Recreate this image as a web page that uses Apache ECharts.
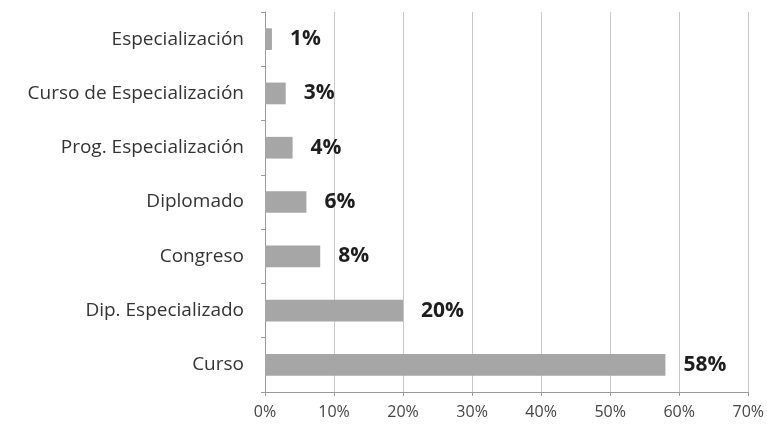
<!DOCTYPE html>
<html><head><meta charset="utf-8">
<script src="https://cdn.jsdelivr.net/npm/echarts@6/dist/echarts.min.js"></script>
<style>html,body{margin:0;padding:0;background:#fff}#c{width:767px;height:431px}</style>
</head><body><div id="c"></div>
<script>
const categories = ["Curso","Dip. Especializado","Congreso","Diplomado","Prog. Especialización","Curso de Especialización","Especialización"];
const values = [58,20,8,6,4,3,1];
const ticks = [0,10,20,30,40,50,60,70];
const chart = echarts.init(document.getElementById('c'));
chart.setOption({
  animation:false,
  grid:{left:265,right:17,top:12,bottom:39},
  xAxis:{type:'value',min:0,max:70,interval:10,
    axisLine:{show:true,lineStyle:{color:'#999'}},
    axisTick:{show:true,length:4,lineStyle:{color:'#999'}},
    splitLine:{lineStyle:{color:'#c8c8c8'}},
    axisLabel:{formatter:v=>v+'%',fontFamily:'Open Sans',fontSize:16,color:'#444',margin:12}},
  yAxis:{type:'category',data:categories,
    axisLine:{lineStyle:{color:'#999'}},
    axisTick:{show:true,length:4,lineStyle:{color:'#999'}},
    axisLabel:{fontFamily:'Open Sans',fontSize:19,color:'#333',margin:21}},
  series:[{type:'bar',data:values,barWidth:'40%',
    itemStyle:{color:'#a6a6a6'},
    label:{show:true,position:'right',distance:18,formatter:p=>p.value+'%',
      fontFamily:'Open Sans',fontWeight:'bold',fontSize:21,color:'#1e1e1e'}}]
});
</script></body></html>
